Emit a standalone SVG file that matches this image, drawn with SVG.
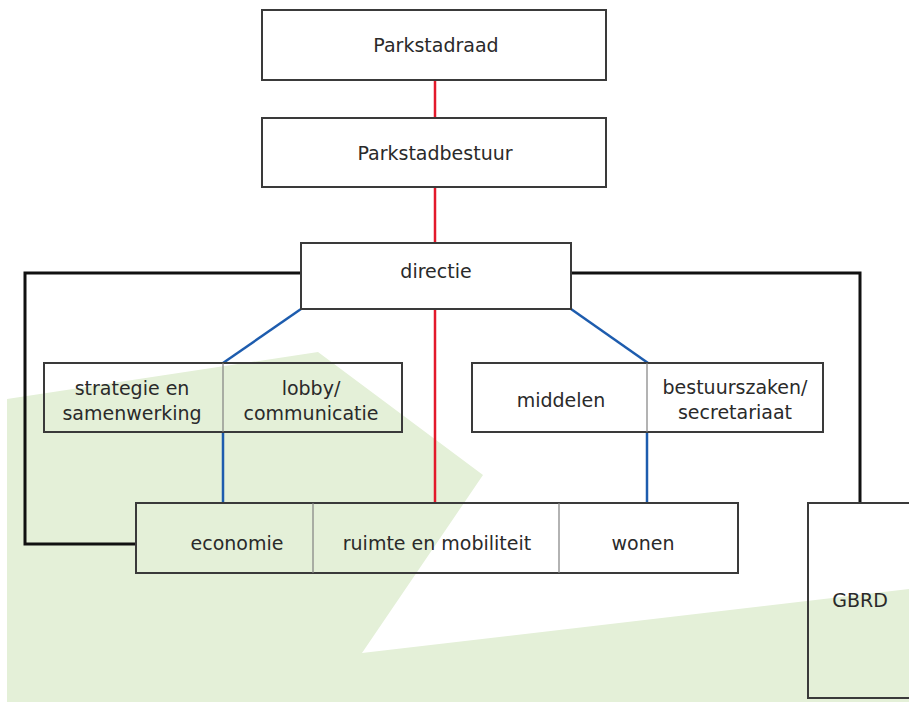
<svg xmlns="http://www.w3.org/2000/svg" width="909" height="702" viewBox="0 0 909 702">
<style>
.box{fill:none;stroke:#3a3a3a;stroke-width:2}
.wbox{fill:#ffffff;stroke:#3a3a3a;stroke-width:2}
.div{stroke:#808080;stroke-width:1.2}
text{font-family:"DejaVu Sans","Verdana",sans-serif;font-size:19px;fill:#2a2a2a;text-anchor:middle}
.red{stroke:#e3192b;stroke-width:2.5;fill:none}
.blue{stroke:#1d5cae;stroke-width:2.5;fill:none}
.black{stroke:#111;stroke-width:3;fill:none}
</style>
<rect width="909" height="702" fill="#ffffff"/>
<polygon points="7,399 318,352 483,475 362,653 909,589 909,702 7,702" fill="#e4f0d8"/>
<g id="connectors">
<line class="red" x1="435" y1="80" x2="435" y2="118"/>
<line class="red" x1="435" y1="187" x2="435" y2="243"/>
<line class="red" x1="435" y1="309" x2="435" y2="503"/>
<polyline class="blue" points="301,309 223,363"/>
<polyline class="blue" points="571,309 648,363"/>
<line class="blue" x1="223" y1="432" x2="223" y2="503"/>
<line class="blue" x1="647" y1="432" x2="647" y2="503"/>
<polyline class="black" points="301,273 25,273 25,544 136,544"/>
<polyline class="black" points="571,273 860,273 860,503"/>
</g>
<g id="parkstadraad">
<rect class="wbox" x="262" y="10" width="344" height="70"/>
<text x="436" y="52">Parkstadraad</text>
</g>
<g id="parkstadbestuur">
<rect class="wbox" x="262" y="118" width="344" height="69"/>
<text x="435" y="160">Parkstadbestuur</text>
</g>
<g id="directie">
<rect class="wbox" x="301" y="243" width="270" height="66"/>
<text x="436" y="278">directie</text>
</g>
<g id="strategie-lobby">
<rect class="box" x="44" y="363" width="358" height="69"/>
<line class="div" x1="223" y1="363" x2="223" y2="432"/>
<text x="132" y="395">strategie en</text>
<text x="132" y="420">samenwerking</text>
<text x="311" y="395">lobby/</text>
<text x="311" y="420">communicatie</text>
</g>
<g id="middelen-bestuurszaken">
<rect class="box" x="472" y="363" width="351" height="69"/>
<line class="div" x1="647" y1="363" x2="647" y2="432"/>
<text x="561" y="407">middelen</text>
<text x="735" y="394">bestuurszaken/</text>
<text x="735" y="419">secretariaat</text>
</g>
<g id="economie-ruimte-wonen">
<rect class="box" x="136" y="503" width="602" height="70"/>
<line class="div" x1="313" y1="503" x2="313" y2="573"/>
<line class="div" x1="559" y1="503" x2="559" y2="573"/>
<text x="237" y="550">economie</text>
<text x="437" y="550">ruimte en mobiliteit</text>
<text x="643" y="550">wonen</text>
</g>
<g id="gbrd">
<rect class="box" x="808" y="503" width="105" height="195"/>
<text x="860" y="607">GBRD</text>
</g>
</svg>
